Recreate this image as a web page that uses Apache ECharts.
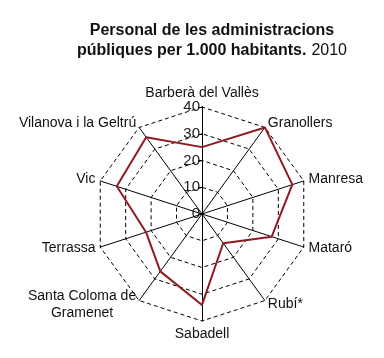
<!DOCTYPE html>
<html><head><meta charset="utf-8">
<script src="https://cdn.jsdelivr.net/npm/echarts@6/dist/echarts.min.js"></script>
<style>html,body{margin:0;padding:0;background:#fff}#c{width:384px;height:358px}</style>
</head><body><div id="c"></div>
<script>
// indicators listed counterclockwise starting at top
const categories = ['Barberà del Vallès','Vilanova i la Geltrú','Vic','Terrassa','Santa Coloma de\nGramenet','Sabadell','Rubí*','Mataró','Manresa','Granollers'];
const values = [25, 35.5, 33.5, 22, 26.5, 34, 13.5, 27.4, 35.5, 40];
const ticks = [0, 10, 20, 30, 40];
const maxVal = 40;

const chart = echarts.init(document.getElementById('c'));
chart.setOption({
  backgroundColor: '#fff',
  animation: false,
  title: {
    text: '{b|Personal de les administracions}\n{b|públiques per 1.000 habitants.} {n|2010}',
    left: 207, top: 16, textAlign: 'center',
    textStyle: {
      rich: {
        b: {fontFamily: 'Liberation Sans', fontWeight: 'bold', fontSize: 16, color: '#111', lineHeight: 20, align: 'center'},
        n: {fontFamily: 'Liberation Sans', fontWeight: 'normal', fontSize: 16, color: '#111', lineHeight: 20}
      }
    }
  },
  radar: {
    center: [202, 214],
    radius: 107,
    startAngle: 90,
    shape: 'polygon',
    splitNumber: 4,
    indicator: categories.map(n => ({name: n, min: 0, max: maxVal})),
    axisName: {
      color: '#111', fontFamily: 'Liberation Sans', fontSize: 14, lineHeight: 17,
      formatter: n => n.split('\n').map(s => '{c|' + s + '}').join('\n'),
      rich: {c: {fontFamily: 'Liberation Sans', fontSize: 14, color: '#111', lineHeight: 17, align: 'center'}}
    },
    nameGap: 5,
    axisLine: {lineStyle: {color: '#000', width: 1}},
    splitLine: {lineStyle: {color: '#000', width: 1, type: [4, 3]}},
    splitArea: {show: false},
    axisTick: {show: false},
    axisLabel: {show: false}
  },
  grid: {left: 202, top: 107, width: 1, height: 107, containLabel: false},
  xAxis: {type: 'value', show: false},
  yAxis: {
    type: 'value', min: ticks[0], max: ticks[ticks.length - 1], interval: 10,
    axisLine: {show: true, lineStyle: {color: '#000'}},
    axisTick: {show: true, length: 4, lineStyle: {color: '#000'}},
    splitLine: {show: false},
    axisLabel: {color: '#222', fontFamily: 'Liberation Sans', fontSize: 15, margin: 2}
  },
  series: [{
    type: 'radar',
    symbol: 'none',
    lineStyle: {color: '#8e1b22', width: 2},
    data: [{value: values}]
  }]
});
</script></body></html>
